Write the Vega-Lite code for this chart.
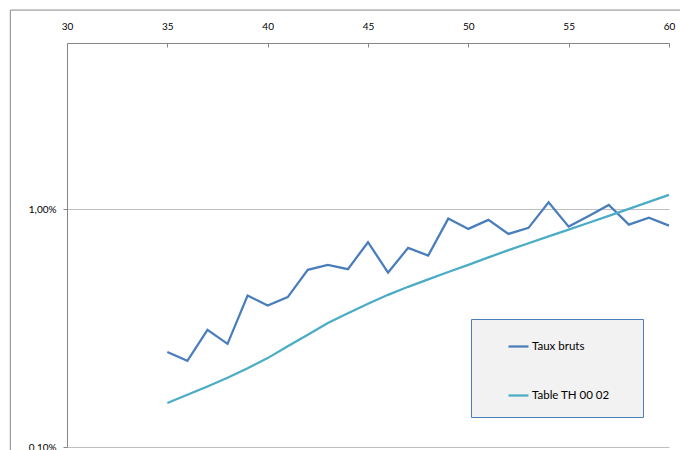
{
  "$schema": "https://vega.github.io/schema/vega-lite/v6.json",
  "width": 602,
  "height": 404,
  "autosize": {"type": "none"},
  "padding": {"left": 67, "top": 43, "right": 11, "bottom": 3},
  "background": "white",
  "config": {"view": {"stroke": null}, "font": "Lato"},
  "datasets": {
    "rates": [
      {"age": 35, "series": "Taux bruts", "rate": 0.002507},
      {"age": 36, "series": "Taux bruts", "rate": 0.002305},
      {"age": 37, "series": "Taux bruts", "rate": 0.003111},
      {"age": 38, "series": "Taux bruts", "rate": 0.002716},
      {"age": 39, "series": "Taux bruts", "rate": 0.004335},
      {"age": 40, "series": "Taux bruts", "rate": 0.003936},
      {"age": 41, "series": "Taux bruts", "rate": 0.004270},
      {"age": 42, "series": "Taux bruts", "rate": 0.005559},
      {"age": 43, "series": "Taux bruts", "rate": 0.005834},
      {"age": 44, "series": "Taux bruts", "rate": 0.005597},
      {"age": 45, "series": "Taux bruts", "rate": 0.007265},
      {"age": 46, "series": "Taux bruts", "rate": 0.005416},
      {"age": 47, "series": "Taux bruts", "rate": 0.006876},
      {"age": 48, "series": "Taux bruts", "rate": 0.006383},
      {"age": 49, "series": "Taux bruts", "rate": 0.009131},
      {"age": 50, "series": "Taux bruts", "rate": 0.008265},
      {"age": 51, "series": "Taux bruts", "rate": 0.009018},
      {"age": 52, "series": "Taux bruts", "rate": 0.007874},
      {"age": 53, "series": "Taux bruts", "rate": 0.008346},
      {"age": 54, "series": "Taux bruts", "rate": 0.010700},
      {"age": 55, "series": "Taux bruts", "rate": 0.008450},
      {"age": 56, "series": "Taux bruts", "rate": 0.009372},
      {"age": 57, "series": "Taux bruts", "rate": 0.010425},
      {"age": 58, "series": "Taux bruts", "rate": 0.008615},
      {"age": 59, "series": "Taux bruts", "rate": 0.009219},
      {"age": 60, "series": "Taux bruts", "rate": 0.008533},
      {"age": 35, "series": "Table TH 00 02", "rate": 0.001531},
      {"age": 36, "series": "Table TH 00 02", "rate": 0.001659},
      {"age": 37, "series": "Table TH 00 02", "rate": 0.001797},
      {"age": 38, "series": "Table TH 00 02", "rate": 0.001955},
      {"age": 39, "series": "Table TH 00 02", "rate": 0.002144},
      {"age": 40, "series": "Table TH 00 02", "rate": 0.002365},
      {"age": 41, "series": "Table TH 00 02", "rate": 0.002652},
      {"age": 42, "series": "Table TH 00 02", "rate": 0.002963},
      {"age": 43, "series": "Table TH 00 02", "rate": 0.003319},
      {"age": 44, "series": "Table TH 00 02", "rate": 0.003649},
      {"age": 45, "series": "Table TH 00 02", "rate": 0.004000},
      {"age": 46, "series": "Table TH 00 02", "rate": 0.004364},
      {"age": 47, "series": "Table TH 00 02", "rate": 0.004716},
      {"age": 48, "series": "Table TH 00 02", "rate": 0.005070},
      {"age": 49, "series": "Table TH 00 02", "rate": 0.005441},
      {"age": 50, "series": "Table TH 00 02", "rate": 0.005834},
      {"age": 51, "series": "Table TH 00 02", "rate": 0.006271},
      {"age": 52, "series": "Table TH 00 02", "rate": 0.006725},
      {"age": 53, "series": "Table TH 00 02", "rate": 0.007196},
      {"age": 54, "series": "Table TH 00 02", "rate": 0.007686},
      {"age": 55, "series": "Table TH 00 02", "rate": 0.008209},
      {"age": 56, "series": "Table TH 00 02", "rate": 0.008776},
      {"age": 57, "series": "Table TH 00 02", "rate": 0.009372},
      {"age": 58, "series": "Table TH 00 02", "rate": 0.010029},
      {"age": 59, "series": "Table TH 00 02", "rate": 0.010732},
      {"age": 60, "series": "Table TH 00 02", "rate": 0.011484}
    ]
  },
  "resolve": {"scale": {"x": "shared", "y": "shared"}},
  "layer": [
    {
      "data": {"values": [{}]},
      "mark": {"type": "rule", "color": "#868686", "strokeWidth": 1, "clip": false},
      "encoding": {
        "x": {"datum": 27.175, "type": "quantitative", "scale": {"domain": [30, 60], "nice": false, "zero": false}},
        "y": {"datum": 0.06878, "type": "quantitative", "scale": {"type": "log", "domain": [0.001, 0.05], "nice": false}},
        "y2": {"datum": 0.0008}
      }
    },
    {
      "data": {"values": [{}]},
      "mark": {"type": "rule", "color": "#868686", "strokeWidth": 1, "clip": false},
      "encoding": {
        "x": {"datum": 27.175, "type": "quantitative"},
        "x2": {"datum": 61},
        "y": {"datum": 0.06878, "type": "quantitative"}
      }
    },
    {
      "data": {"name": "rates"},
      "mark": {"type": "line", "strokeWidth": 2.25},
      "encoding": {
        "x": {
          "field": "age",
          "type": "quantitative",
          "scale": {"domain": [30, 60], "nice": false, "zero": false},
          "axis": {
            "orient": "top",
            "values": [30, 35, 40, 45, 50, 55, 60],
            "title": null,
            "grid": false,
            "domainColor": "#868686",
            "tickColor": "#868686",
            "tickSize": -4,
            "labelPadding": 16,
            "labelFontSize": 10,
            "labelColor": "#000000",
            "labelFlush": false,
            "labelOverlap": false
          }
        },
        "y": {
          "field": "rate",
          "type": "quantitative",
          "scale": {"type": "log", "domain": [0.001, 0.05], "nice": false},
          "axis": {
            "values": [0.001, 0.01],
            "labelExpr": "replace(format(datum.value * 100, '.2f'), '.', ',') + '%'",
            "title": null,
            "grid": true,
            "gridColor": "#bfbfbf",
            "gridWidth": 1,
            "domainColor": "#868686",
            "tickColor": "#868686",
            "tickSize": 4,
            "labelPadding": 7,
            "labelFontSize": 10,
            "labelColor": "#000000",
            "labelFlush": false,
            "labelOverlap": false
          }
        },
        "color": {
          "field": "series",
          "type": "nominal",
          "scale": {"domain": ["Taux bruts", "Table TH 00 02"], "range": ["#4a7ebb", "#4bacc6"]},
          "legend": {
            "orient": "none",
            "legendX": 404,
            "legendY": 276,
            "title": "\u00a0",
            "titleOrient": "right",
            "titleFontSize": 1,
            "titlePadding": 17,
            "direction": "vertical",
            "symbolType": "stroke",
            "symbolSize": 400,
            "symbolStrokeWidth": 2.25,
            "fillColor": "#f2f2f2",
            "strokeColor": "#4a7ebb",
            "padding": 16,
            "symbolOffset": 20,
            "rowPadding": 32,
            "labelFontSize": 11.5,
            "labelFont": "Lato",
            "labelColor": "#000000",
            "labelOffset": 2
          }
        }
      }
    }
  ]
}
